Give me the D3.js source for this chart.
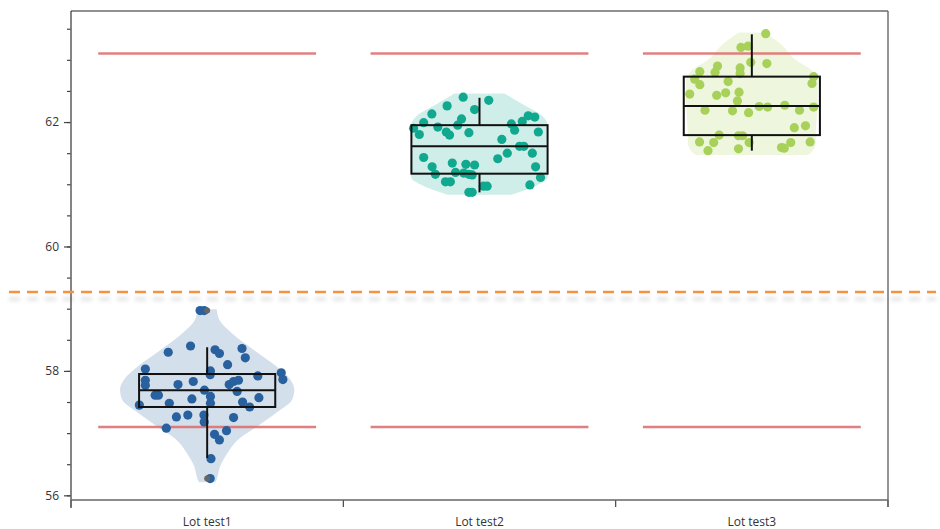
<!DOCTYPE html>
<html><head><meta charset="utf-8">
<script src="https://cdn.jsdelivr.net/npm/d3@7"></script>
<style>body{margin:0;background:#fff;} text{font-family:"Open Sans","Noto Sans",sans-serif;}</style>
</head><body><svg id="c" width="940" height="529"></svg>
<script>
const categories = ["Lot test1", "Lot test2", "Lot test3"];
const colors = ["#29609e", "#10a98f", "#a8d15a"];

const values1 = [58.97,58.97,58.40,58.30,58.34,58.28,58.36,58.21,58.10,58.03,58.00,57.97,57.86,57.92,57.85,57.77,57.83,57.78,57.78,57.83,57.85,57.67,57.69,57.61,57.61,57.59,57.55,57.57,57.45,57.48,57.48,57.50,57.42,57.26,57.29,57.29,57.18,57.25,57.08,57.04,56.98,56.89,56.59,56.27,57.94];
const jitter1 = [-0.026,-0.011,-0.061,-0.143,0.029,0.045,0.128,0.140,0.075,-0.227,0.012,0.272,0.278,0.186,-0.227,-0.227,-0.051,-0.107,0.081,0.097,0.115,0.110,-0.010,-0.191,-0.179,0.012,-0.056,0.190,-0.249,-0.139,0.012,0.130,0.156,-0.113,-0.071,-0.012,-0.011,0.097,-0.150,0.071,0.027,0.045,0.014,0.011,0.011];

const values2 = [62.40,62.35,62.26,62.20,62.13,62.05,61.95,61.99,62.10,62.08,61.97,62.01,61.87,61.92,61.90,61.80,61.84,61.79,61.83,61.84,61.72,61.61,61.61,61.50,61.50,61.41,61.43,61.28,61.34,61.28,61.32,61.31,61.16,61.19,61.18,61.16,61.15,61.11,61.04,61.04,60.97,60.97,60.99,60.87,60.87];
const jitter2 = [-0.060,0.034,-0.119,-0.018,-0.175,-0.066,-0.080,-0.205,0.179,0.203,0.117,0.157,0.129,-0.153,-0.242,-0.221,-0.122,-0.110,-0.039,0.216,0.082,0.147,0.163,0.194,0.102,0.067,-0.205,0.206,-0.100,-0.174,-0.050,-0.018,-0.162,-0.088,-0.058,-0.039,-0.027,0.224,-0.125,-0.107,0.014,0.028,0.185,-0.039,-0.027];

const values3 = [63.42,63.20,63.22,62.96,62.94,62.90,62.87,62.81,62.80,62.78,62.69,62.60,62.65,62.73,62.62,62.45,62.43,62.47,62.48,62.34,62.19,62.18,62.15,62.25,62.24,62.27,62.19,62.24,61.91,61.94,61.79,61.78,61.78,61.68,61.67,61.67,61.54,61.57,61.59,61.58,61.67,61.68];
const jitter3 = [0.051,-0.040,-0.014,-0.004,0.055,-0.126,-0.043,-0.191,-0.135,-0.043,-0.210,-0.191,-0.087,0.227,0.221,-0.228,-0.129,-0.096,-0.047,-0.053,-0.172,-0.071,-0.012,0.027,0.058,0.121,0.175,0.227,0.156,0.197,-0.120,-0.049,-0.034,-0.192,-0.140,-0.010,-0.161,-0.049,0.109,0.119,0.143,0.214];

// box statistics
const q1 = [57.42, 61.17, 61.79];
const medians = [57.69, 61.61, 62.26];
const q3 = [57.95, 61.95, 62.73];
const whiskerLow = [56.60, 60.87, 61.54];
const whiskerHigh = [58.38, 62.39, 63.41];
const outliers = [[58.97, 56.27], [], []];

// violin density profiles (value, half-width as fraction of half band)
const violinLevels1 = [58.99,58.82,58.61,58.34,58.07,57.86,57.70,57.54,57.33,57.11,56.90,56.68,56.47,56.26,56.21];
const violinDensity1 = [0.07,0.09,0.18,0.34,0.51,0.61,0.64,0.625,0.51,0.37,0.23,0.15,0.096,0.07,0.06];
const violinLevels2 = [62.46,62.27,62.11,61.95,61.79,61.63,61.47,61.26,61.10,60.99,60.88,60.83];
const violinDensity2 = [0.184,0.33,0.456,0.50,0.50,0.49,0.50,0.507,0.50,0.426,0.30,0.235];
const violinLevels3 = [63.44,63.24,63.02,62.81,62.70,62.49,62.10,61.79,61.68,61.52,61.47];
const violinDensity3 = [0.096,0.22,0.31,0.45,0.485,0.485,0.478,0.47,0.47,0.44,0.41];

const specLimits = [63.1, 57.1];
const referenceLine = 59.27;
const yMajorTicks = [56, 58, 60, 62];
const yMinorTicks = d3.range(56, 63.51, 0.5);

const groups = [
  {values: values1, jitter: jitter1, levels: violinLevels1, density: violinDensity1},
  {values: values2, jitter: jitter2, levels: violinLevels2, density: violinDensity2},
  {values: values3, jitter: jitter3, levels: violinLevels3, density: violinDensity3}
];

const W = 940, H = 529;
const margin = {top: 11, right: 52, bottom: 29, left: 71};
const svg = d3.select("#c");

const x = d3.scaleBand().domain(categories).range([margin.left, W - margin.right]).padding(0);
const y = d3.scaleLinear().domain([55.925, 63.785]).range([H - margin.bottom, margin.top]);
const bw = x.bandwidth();
const wScale = d3.scaleLinear().domain([0, 1]).range([0, bw / 2]);

const defs = svg.append("defs");
const f = defs.append("filter").attr("id", "sh").attr("filterUnits", "userSpaceOnUse")
  .attr("x", 0).attr("y", 260).attr("width", W).attr("height", 70);
f.append("feDropShadow").attr("dx", 0).attr("dy", 7).attr("stdDeviation", 2.2)
  .attr("flood-color", "#000").attr("flood-opacity", 0.16);

// violins
groups.forEach((g, i) => {
  const cx = x(categories[i]) + bw / 2;
  const pts = g.levels.map((v, k) => [v, g.density[k]]);
  const area = d3.area()
    .y(d => y(d[0]))
    .x0(d => cx - wScale(d[1]))
    .x1(d => cx + wScale(d[1]))
    .curve(d3.curveMonotoneY);
  svg.append("path").attr("d", area(pts)).attr("fill", colors[i]).attr("fill-opacity", 0.2);
});

// spec limit lines
categories.forEach(c => {
  const cx = x(c) + bw / 2;
  specLimits.forEach(v => {
    svg.append("line").attr("x1", cx - bw * 0.4).attr("x2", cx + bw * 0.4)
      .attr("y1", y(v)).attr("y2", y(v))
      .attr("stroke", "#dc6a6a").attr("stroke-width", 2.5).attr("stroke-opacity", 0.85);
  });
});

// points
groups.forEach((g, i) => {
  const cx = x(categories[i]) + bw / 2;
  svg.append("g").selectAll("circle").data(g.values).join("circle")
    .attr("cx", (d, k) => cx + g.jitter[k] * bw)
    .attr("cy", d => y(d))
    .attr("r", 4.6)
    .attr("fill", colors[i]);
});

// outlier markers
outliers.forEach((arr, i) => {
  const cx = x(categories[i]) + bw / 2;
  svg.append("g").selectAll("circle").data(arr).join("circle")
    .attr("cx", cx).attr("cy", d => y(d)).attr("r", 3).attr("fill", "#666");
});

// boxes
categories.forEach((c, i) => {
  const cx = x(c) + bw / 2;
  const hw = bw * 0.25;
  const g = svg.append("g").attr("stroke", "#111").attr("stroke-width", 2).attr("fill", "none");
  g.append("line").attr("x1", cx).attr("x2", cx).attr("y1", y(whiskerHigh[i])).attr("y2", y(q3[i]));
  g.append("line").attr("x1", cx).attr("x2", cx).attr("y1", y(q1[i])).attr("y2", y(whiskerLow[i]));
  g.append("rect").attr("x", cx - hw).attr("width", hw * 2)
    .attr("y", y(q3[i])).attr("height", y(q1[i]) - y(q3[i]));
  g.append("line").attr("x1", cx - hw).attr("x2", cx + hw).attr("y1", y(medians[i])).attr("y2", y(medians[i]));
});

// axes
const left = svg.append("g").attr("transform", `translate(${margin.left},0)`);
left.call(d3.axisLeft(y).tickValues(yMinorTicks).tickSize(4).tickSizeOuter(0).tickFormat(""));
left.call(g => g.select(".domain").remove());
const leftMajor = svg.append("g").attr("transform", `translate(${margin.left},0)`);
leftMajor.call(d3.axisLeft(y).tickValues(yMajorTicks).tickSize(7).tickPadding(5).tickSizeOuter(0).tickFormat(d3.format("d")));
leftMajor.call(g => g.select(".domain").remove());
svg.selectAll(".tick line").attr("stroke", "#444").attr("stroke-width", 1.2);
leftMajor.selectAll("text").attr("font-size", 12).attr("fill", "#333");

const bottom = svg.append("g").attr("transform", `translate(0,${H - margin.bottom})`);
bottom.call(d3.axisBottom(x).tickSize(0).tickPadding(17));
bottom.select(".domain").remove();
bottom.selectAll("text").attr("font-size", 12).attr("fill", "#333");
const bounds = categories.map(c => x(c)).concat([x(categories[categories.length - 1]) + bw]);
bottom.selectAll(".bt").data(bounds).join("line").attr("class", "bt")
  .attr("x1", d => d).attr("x2", d => d).attr("y1", 0).attr("y2", 7)
  .attr("stroke", "#444").attr("stroke-width", 1.2);

// frame
svg.append("line").attr("x1", margin.left).attr("x2", margin.left).attr("y1", margin.top).attr("y2", H - margin.bottom + 8)
  .attr("stroke", "#666").attr("stroke-width", 1.6);
svg.append("line").attr("x1", margin.left).attr("x2", W - margin.right).attr("y1", H - margin.bottom).attr("y2", H - margin.bottom)
  .attr("stroke", "#666").attr("stroke-width", 1.6);
svg.append("line").attr("x1", margin.left).attr("x2", W - margin.right).attr("y1", margin.top).attr("y2", margin.top)
  .attr("stroke", "#222").attr("stroke-width", 1.2);
svg.append("line").attr("x1", W - margin.right).attr("x2", W - margin.right).attr("y1", margin.top).attr("y2", H - margin.bottom + 7)
  .attr("stroke", "#666").attr("stroke-width", 1.4);

// reference dashed line with shadow
svg.append("line").attr("x1", 9).attr("x2", 936).attr("y1", y(referenceLine)).attr("y2", y(referenceLine))
  .attr("stroke", "#f5923e").attr("stroke-width", 2.5).attr("stroke-dasharray", "11,7")
  .attr("filter", "url(#sh)");
</script></body></html>
